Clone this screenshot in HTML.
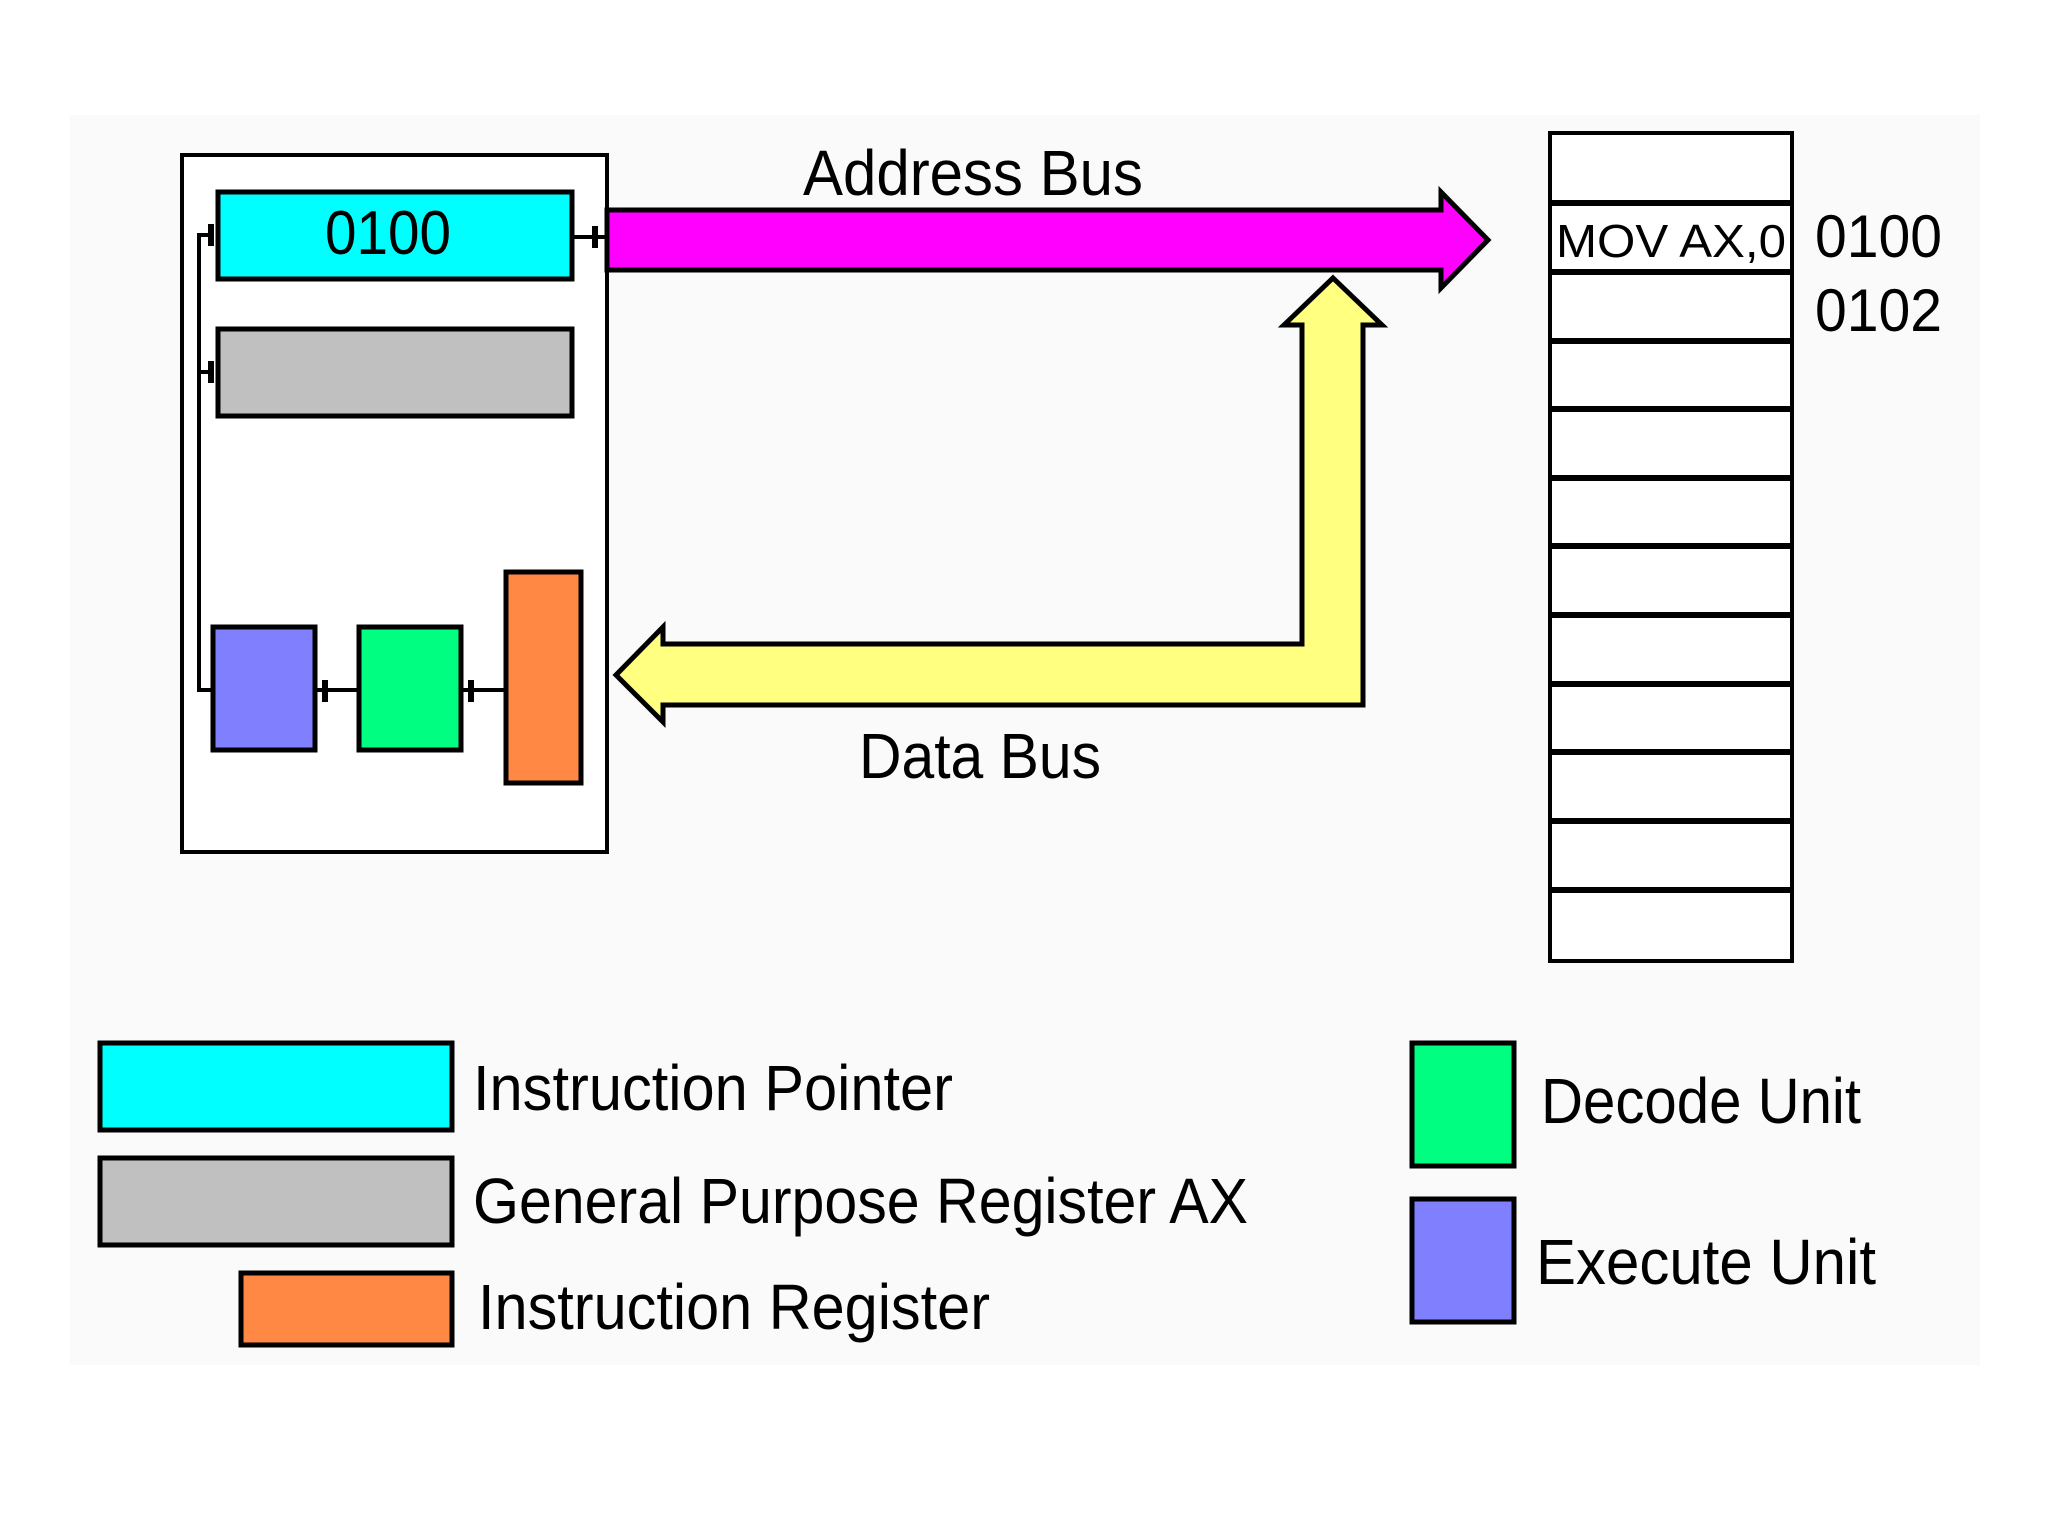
<!DOCTYPE html>
<html><head><meta charset="utf-8"><style>
html,body{margin:0;padding:0;background:#fff;}
svg{display:block;}
text{font-family:"Liberation Sans",sans-serif;fill:#000;}
</style></head><body>
<svg width="2048" height="1536" viewBox="0 0 2048 1536" xmlns="http://www.w3.org/2000/svg">
<rect x="0" y="0" width="2048" height="1536" fill="#fff"/>
<rect x="70" y="115" width="1910" height="1250" fill="#fafafa"/>

<!-- CPU box -->
<rect x="182" y="155" width="425" height="697" fill="#fff" stroke="#000" stroke-width="4"/>
<rect x="218" y="192" width="354" height="87" fill="#00ffff" stroke="#000" stroke-width="5"/>
<text x="388" y="254" font-size="62" text-anchor="middle" textLength="126" lengthAdjust="spacingAndGlyphs">0100</text>
<rect x="218" y="329" width="354" height="87" fill="#c0c0c0" stroke="#000" stroke-width="5"/>
<rect x="213" y="627" width="102" height="123" fill="#8080ff" stroke="#000" stroke-width="5"/>
<rect x="359" y="627" width="102" height="123" fill="#00ff80" stroke="#000" stroke-width="5"/>
<rect x="506" y="572" width="75" height="211" fill="#ff8844" stroke="#000" stroke-width="5"/>

<!-- internal connectors -->
<polyline points="213,690 199,690 199,235 210,235" fill="none" stroke="#000" stroke-width="4"/>
<line x1="199" y1="372" x2="210" y2="372" stroke="#000" stroke-width="4"/>
<rect x="208" y="224" width="6" height="22" fill="#000"/>
<rect x="208" y="361" width="6" height="22" fill="#000"/>
<line x1="315" y1="690" x2="359" y2="690" stroke="#000" stroke-width="4"/>
<rect x="322" y="680" width="6" height="22" fill="#000"/>
<line x1="461" y1="690" x2="506" y2="690" stroke="#000" stroke-width="4"/>
<rect x="468" y="680" width="6" height="22" fill="#000"/>
<line x1="572" y1="237" x2="607" y2="237" stroke="#000" stroke-width="4"/>
<rect x="592" y="226" width="6" height="22" fill="#000"/>

<!-- Address bus -->
<polygon points="607,210 1441,210 1441,192 1488,240 1441,288 1441,270 607,270" fill="#ff00ff" stroke="#000" stroke-width="5"/>
<text x="973" y="195" font-size="64" text-anchor="middle" textLength="340" lengthAdjust="spacingAndGlyphs">Address Bus</text>

<!-- Data bus -->
<polygon points="1333,278 1382,325 1363,325 1363,705 663,705 663,722 616,675 663,627 663,644 1302,644 1302,325 1284,325" fill="#ffff80" stroke="#000" stroke-width="5"/>
<text x="980" y="778" font-size="64" text-anchor="middle" textLength="242" lengthAdjust="spacingAndGlyphs">Data Bus</text>

<!-- Memory -->
<rect x="1550" y="133" width="242" height="828" fill="#fff" stroke="#000" stroke-width="4"/>
<g stroke="#000" stroke-width="6">
<line x1="1550" y1="203" x2="1792" y2="203"/>
<line x1="1550" y1="272" x2="1792" y2="272"/>
<line x1="1550" y1="341" x2="1792" y2="341"/>
<line x1="1550" y1="409" x2="1792" y2="409"/>
<line x1="1550" y1="478" x2="1792" y2="478"/>
<line x1="1550" y1="546" x2="1792" y2="546"/>
<line x1="1550" y1="615" x2="1792" y2="615"/>
<line x1="1550" y1="684" x2="1792" y2="684"/>
<line x1="1550" y1="752" x2="1792" y2="752"/>
<line x1="1550" y1="821" x2="1792" y2="821"/>
<line x1="1550" y1="890" x2="1792" y2="890"/>
</g>
<text x="1556" y="257" font-size="46" textLength="230" lengthAdjust="spacingAndGlyphs">MOV AX,0</text>
<text x="1815" y="257" font-size="60" textLength="127" lengthAdjust="spacingAndGlyphs">0100</text>
<text x="1815" y="331" font-size="60" textLength="127" lengthAdjust="spacingAndGlyphs">0102</text>

<!-- Legend -->
<rect x="100" y="1043" width="352" height="87" fill="#00ffff" stroke="#000" stroke-width="5"/>
<text x="473" y="1110" font-size="64" textLength="480" lengthAdjust="spacingAndGlyphs">Instruction Pointer</text>
<rect x="100" y="1158" width="352" height="87" fill="#c0c0c0" stroke="#000" stroke-width="5"/>
<text x="473" y="1223" font-size="64" textLength="775" lengthAdjust="spacingAndGlyphs">General Purpose Register AX</text>
<rect x="241" y="1273" width="211" height="72" fill="#ff8844" stroke="#000" stroke-width="5"/>
<text x="478" y="1329" font-size="64" textLength="512" lengthAdjust="spacingAndGlyphs">Instruction Register</text>
<rect x="1412" y="1043" width="102" height="123" fill="#00ff80" stroke="#000" stroke-width="5"/>
<text x="1541" y="1123" font-size="64" textLength="320" lengthAdjust="spacingAndGlyphs">Decode Unit</text>
<rect x="1412" y="1199" width="102" height="123" fill="#8080ff" stroke="#000" stroke-width="5"/>
<text x="1536" y="1284" font-size="64" textLength="340" lengthAdjust="spacingAndGlyphs">Execute Unit</text>
</svg>
</body></html>
